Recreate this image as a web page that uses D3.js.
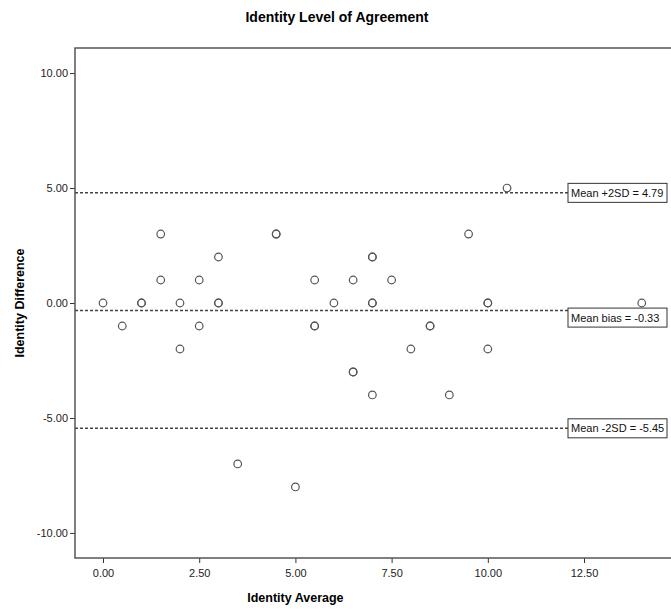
<!DOCTYPE html>
<html>
<head>
<meta charset="utf-8">
<script src="https://cdn.jsdelivr.net/npm/d3@7"></script>
<style>
  body { margin: 0; background: #ffffff; }
  svg { display: block; font-family: Arial, "Liberation Sans", sans-serif; }
</style>
</head>
<body>
<script>
//averages and differences for each pair (duplicates are drawn twice, they look bolder)
var avgValues  = [0, 0.5, 1, 1, 1.5, 1.5, 2, 2, 2.5, 2.5, 3, 3, 3, 3.5, 4.5, 4.5, 5,
                  5.5, 5.5, 5.5, 6, 6.5, 6.5, 6.5, 7, 7, 7, 7, 7, 7.5, 8, 8.5, 8.5,
                  9, 9.5, 10, 10, 10, 10.5, 14];
var diffValues = [0, -1, 0, 0, 3, 1, 0, -2, 1, -1, 2, 0, 0, -7, 3, 3, -8,
                  1, -1, -1, 0, 1, -3, -3, 2, 2, 0, 0, -4, 1, -2, -1, -1,
                  -4, 3, 0, 0, -2, 5, 0];

//reference lines (upper limit, bias, lower limit) and their labels
var limitValues = [4.79, -0.33, -5.45];
var limitLabels = ["Mean +2SD = 4.79", "Mean bias = -0.33", "Mean -2SD = -5.45"];

//tick values for both axes
var xTicks = [0, 2.5, 5, 7.5, 10, 12.5];
var yTicks = [-10, -5, 0, 5, 10];

var width = 671;
var height = 612;
var plotLeft = 75, plotTop = 48, plotBottom = 558;

var svg = d3.select("body").append("svg")
  .attr("width", width)
  .attr("height", height);

//scales, plot area runs off the right edge of the picture
var x = d3.scaleLinear()
  .domain([-0.728, 15])
  .range([plotLeft, plotLeft + 15.728 * 38.48]);

var y = d3.scaleLinear()
  .domain([-11.09, 11.09])
  .range([plotBottom, plotTop]);

//plain hyphen for negatives, like the original
var fmt = function(d) { return d.toFixed(2); };

//title
svg.append("text")
  .attr("x", 337)
  .attr("y", 22)
  .attr("text-anchor", "middle")
  .style("font-size", "14px")
  .style("font-weight", "bold")
  .text("Identity Level of Agreement");

//y axis
var yAxis = svg.append("g")
  .attr("transform", "translate(" + plotLeft + ",0)")
  .call(d3.axisLeft(y).tickValues(yTicks).tickFormat(fmt).tickSize(5).tickPadding(2));

//x axis
var xAxis = svg.append("g")
  .attr("transform", "translate(0," + plotBottom + ")")
  .call(d3.axisBottom(x).tickValues(xTicks).tickFormat(fmt).tickSize(5).tickPadding(6));

[yAxis, xAxis].forEach(function(a) {
  a.select(".domain").remove();
  a.selectAll(".tick line").attr("stroke", "#333").attr("stroke-width", 1);
  a.selectAll(".tick text")
    .attr("fill", "#222")
    .style("font-size", "11px")
    .style("font-family", "Arial, 'Liberation Sans', sans-serif");
});

//frame round the plot (right side is outside the picture)
svg.append("path")
  .attr("d", "M" + (width + 5) + "," + plotTop + "H" + plotLeft + "V" + plotBottom + "H" + (width + 5))
  .attr("fill", "none")
  .attr("stroke", "#555")
  .attr("stroke-width", 1.5);

//axis titles
svg.append("text")
  .attr("text-anchor", "middle")
  .attr("transform", "translate(24," + y(0) + ")rotate(-90)")
  .style("font-size", "12.5px")
  .style("font-weight", "bold")
  .text("Identity Difference");

svg.append("text")
  .attr("x", x(5))
  .attr("y", 602)
  .attr("text-anchor", "middle")
  .style("font-size", "12.5px")
  .style("font-weight", "bold")
  .text("Identity Average");

//dashed reference lines
var boxX = 568, boxW = 99, boxH = 19;
limitValues.forEach(function(v, i) {
  svg.append("line")
    .attr("x1", plotLeft)
    .attr("x2", boxX)
    .attr("y1", y(v))
    .attr("y2", y(v))
    .attr("stroke", "#444")
    .attr("stroke-width", 1.5)
    .attr("stroke-dasharray", "3,2");
});

//points
svg.append("g")
  .selectAll("circle")
  .data(avgValues)
  .enter().append("circle")
  .attr("cx", function(d) { return x(d); })
  .attr("cy", function(d, i) { return y(diffValues[i]); })
  .attr("r", 3.8)
  .attr("fill", "none")
  .attr("stroke", "#555")
  .attr("stroke-width", 1.2);

//label boxes at the end of each line; the bias box sits a little lower
//so it does not hide the point right above it
var boxShift = [0, 7, 0];
limitValues.forEach(function(v, i) {
  var cy = y(v) + boxShift[i];
  svg.append("rect")
    .attr("x", boxX)
    .attr("y", cy - boxH / 2)
    .attr("width", boxW)
    .attr("height", boxH)
    .attr("fill", "#ffffff")
    .attr("stroke", "#333")
    .attr("stroke-width", 1);
  svg.append("text")
    .attr("x", boxX + 3)
    .attr("y", cy + 4)
    .style("font-size", "11px")
    .attr("fill", "#111")
    .text(limitLabels[i]);
});
</script>
</body>
</html>
